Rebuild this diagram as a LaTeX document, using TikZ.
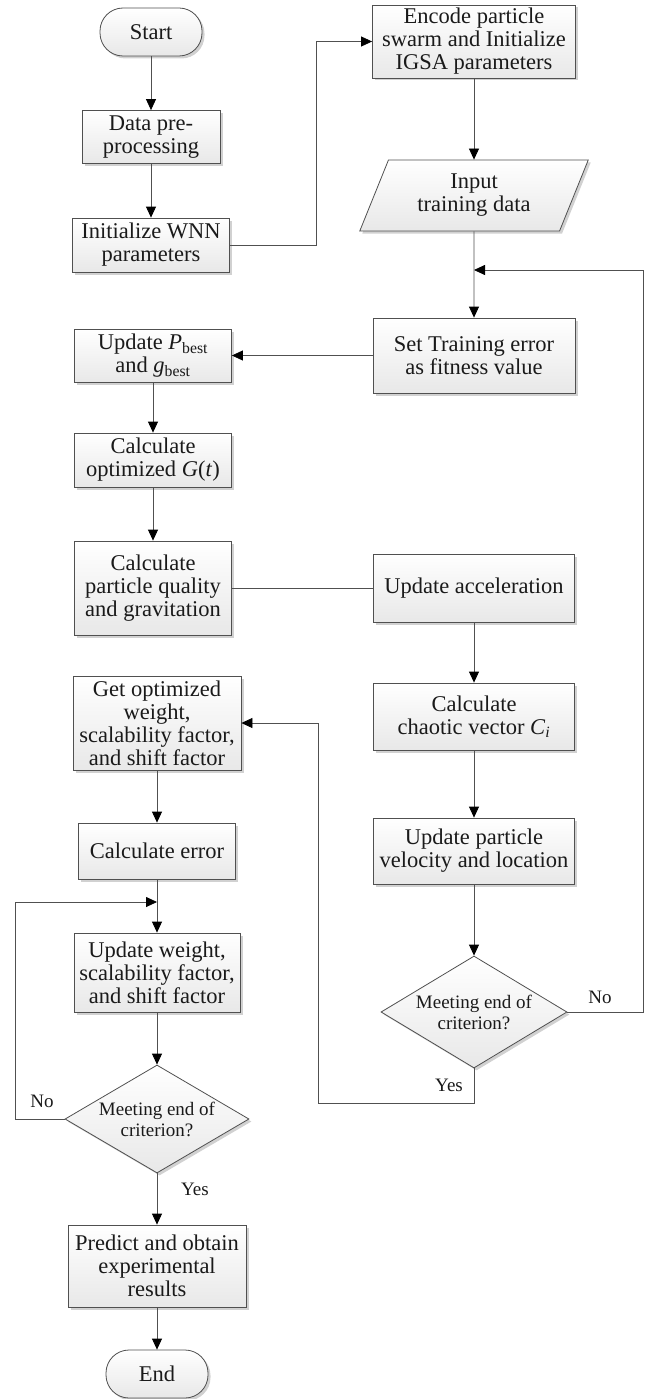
\documentclass[tikz,border=0pt]{standalone}
\usepackage{fontspec}
\setmainfont{Liberation Serif}
\usetikzlibrary{shapes.geometric,shadows,arrows.meta}
\definecolor{ln}{HTML}{505050}
\definecolor{tx}{HTML}{1A1A1A}
\tikzset{
 base/.style={draw=ln, line width=0.8pt, top color=white, bottom color=black!9,
   drop shadow={shadow xshift=2.5pt,shadow yshift=-2.5pt,fill=black!18,opacity=1},
   text=tx, align=center, inner sep=0pt, font=\fontsize{22.5}{23}\selectfont},
 proc/.style={base, rectangle},
 term/.style={base, rectangle, rounded corners=23pt, minimum width=102pt, minimum height=48pt},
 io/.style={base, trapezium, trapezium left angle=66, trapezium right angle=114, trapezium stretches=true},
 dec/.style={base, diamond, inner sep=0pt, font=\fontsize{19}{21}\selectfont},
 arr/.style={draw=ln, line width=0.8pt, -{Triangle[length=11pt,width=10pt,fill=black,color=black]}},
 con/.style={draw=ln, line width=0.8pt},
 lab/.style={text=tx, font=\fontsize{19}{21}\selectfont, inner sep=0pt},
}
\begin{document}
\begin{tikzpicture}[x=1pt,y=-1pt]
\useasboundingbox (0,0) rectangle (647,1399);
% left top column
\node[term] (start) at (151,32) {Start};
\node[proc, minimum width=138pt, minimum height=53pt] (data) at (151,137) {Data pre-\\processing};
\node[proc, minimum width=157pt, minimum height=54pt] (wnn) at (151,245) {Initialize WNN\\parameters};
% right column
\node[proc, minimum width=203pt, minimum height=73pt] (encode) at (474,41.5) {Encode particle\\swarm and Initialize\\IGSA parameters};
\node[io, minimum width=229pt, minimum height=71pt] (input) at (474,195.5) {Input\\training data};
\node[proc, minimum width=202pt, minimum height=75pt] (set) at (474,355.5) {Set Training error\\as fitness value};
\node[proc, minimum width=201pt, minimum height=68pt] (accel) at (474,588) {Update acceleration};
\node[proc, minimum width=201pt, minimum height=67pt] (chaotic) at (474,716.5) {Calculate\\chaotic vector \textit{C}\textsubscript{\textit{i}}};
\node[proc, minimum width=201pt, minimum height=66pt] (velocity) at (474,851) {Update particle\\velocity and location};
\node[dec, aspect=1.66, minimum width=186pt, minimum height=112pt] (dia1) at (474,1012) {Meeting end of\\criterion?};
% left middle column
\node[proc, minimum width=157pt, minimum height=53pt] (pbest) at (153,355.5) {Update \textit{P}\textsubscript{best}\\and \textit{g}\textsubscript{best}};
\node[proc, minimum width=157pt, minimum height=54pt] (gt) at (153,460) {Calculate\\optimized \textit{G}(\textit{t})};
\node[proc, minimum width=157pt, minimum height=94pt] (quality) at (153,588) {Calculate\\particle quality\\and gravitation};
% left bottom column
\node[proc, minimum width=168pt, minimum height=94pt] (getopt) at (157,723) {Get optimized\\weight,\\scalability factor,\\and shift factor};
\node[proc, minimum width=157pt, minimum height=56pt] (error) at (157,851) {Calculate error};
\node[proc, minimum width=166pt, minimum height=79pt] (update) at (157,972.5) {Update weight,\\scalability factor,\\and shift factor};
\node[dec, aspect=1.7, minimum width=184pt, minimum height=108pt] (dia2) at (157,1119) {Meeting end of\\criterion?};
\node[proc, minimum width=178pt, minimum height=82pt] (predict) at (157,1266) {Predict and obtain\\experimental\\results};
\node[term] (end) at (157,1374) {End};
% helper coordinates
\coordinate (c1) at (316,0);
\coordinate (j1) at (474,270);
\coordinate (r1) at (643,0);
\coordinate (b1) at (318,1103);
\coordinate (j2) at (157,902);
\coordinate (l2) at (15,0);
% connectors
\draw[arr] (start) -- (data);
\draw[arr] (data) -- (wnn);
\draw[arr] (wnn.east) -- (wnn.east -| c1) -- (c1 |- encode.west) -- (encode.west);
\draw[arr] (encode) -- (input);
\draw[arr] (input) -- (set);
\draw[arr] (set.west) -- (set.west -| pbest.east);
\draw[arr] (pbest) -- (gt);
\draw[arr] (gt) -- (quality);
\draw[con] (quality.east) -- (quality.east -| accel.west);
\draw[arr] (accel) -- (chaotic);
\draw[arr] (chaotic) -- (velocity);
\draw[arr] (velocity) -- (dia1);
\draw[arr] (dia1.east) -- (dia1.east -| r1) -- (r1 |- j1) -- (j1);
\node[lab] (no1) at (600,997) {No};
\draw[arr] (dia1.south) -- (dia1.south |- b1) -- (b1) -- (b1 |- getopt.east) -- (getopt.east);
\node[lab] (yes1) at (449,1085) {Yes};
\draw[arr] (getopt) -- (error);
\draw[arr] (error) -- (update);
\draw[arr] (update) -- (dia2);
\draw[arr] (dia2.west) -- (dia2.west -| l2) -- (l2 |- j2) -- (j2);
\node[lab] (no2) at (42,1101) {No};
\draw[arr] (dia2) -- (predict);
\node[lab] (yes2) at (195,1189) {Yes};
\draw[arr] (predict) -- (end);
\end{tikzpicture}
\end{document}
